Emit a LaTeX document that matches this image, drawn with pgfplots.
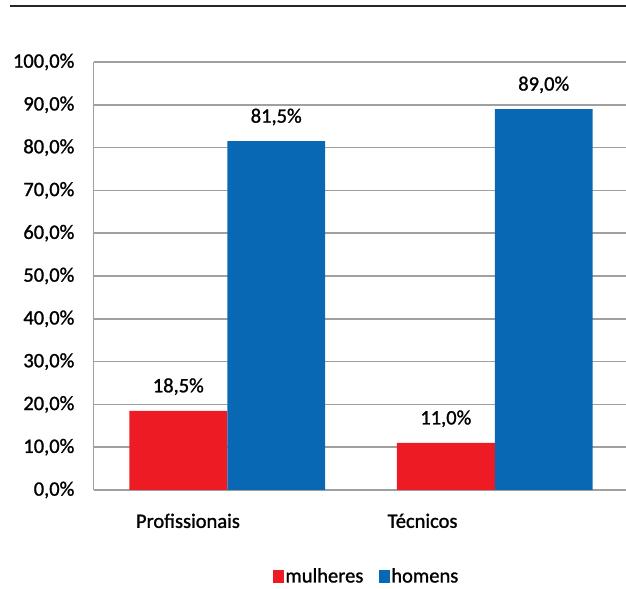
\documentclass[border=0pt]{standalone}
\usepackage{fontspec}
\setmainfont{Carlito}[FakeBold=1.2]
\usepackage{pgfplots}
\pgfplotsset{compat=1.18}

\definecolor{barred}{RGB}{237,28,36}
\definecolor{barblue}{RGB}{8,104,180}
\definecolor{gridgray}{RGB}{160,160,160}

\begin{document}
\fontsize{20.5bp}{24bp}\selectfont
\begin{tikzpicture}[x=1bp,y=1bp]
\useasboundingbox (0,0) rectangle (626,589);
% rule above the chart
\draw[line width=1.8bp, black!85] (10,583) -- (626,583);
\begin{axis}[
  at={(93.5bp,99bp)}, anchor=south west,
  width=535bp, height=428bp, scale only axis,
  xmin=-0.5, xmax=1.5, ymin=0, ymax=100,
  ybar=0pt, bar width=0.366,
  axis x line*=bottom, axis y line*=left,
  axis line style={-, gridgray, line width=1.5bp},
  ymajorgrids, grid style={gridgray, line width=1.5bp},
  major tick length=0pt,
  xtick={-0.147,0.73}, xticklabels={Profissionais, Técnicos},
  xticklabel style={inner sep=0pt, yshift=-23.5bp},
  ytick={0,10,...,100},
  yticklabel={\pgfmathprintnumber[fixed,fixed zerofill,precision=1,use comma,assume math mode=true]{\tick}\%},
  yticklabel style={inner sep=0pt, xshift=-19bp},
  nodes near coords={\pgfmathprintnumber[fixed,fixed zerofill,precision=1,use comma,assume math mode=true]{\pgfplotspointmeta}\%},
  every node near coord/.append style={anchor=base, inner sep=0pt, yshift=18.5bp, black},
  legend columns=2,
  legend style={at={(0.51,-0.203)}, anchor=center, draw=none, fill=none,
    /tikz/every even column/.append style={column sep=14bp},
    nodes={inner sep=1.5bp}},
]
\addplot[fill=barred, draw=none,
  legend image code/.code={\fill[barred] (0bp,-6.5bp) rectangle (11bp,6.5bp);}]
  coordinates {(0,18.5) (1,11.0)};
\addplot[fill=barblue, draw=none,
  legend image code/.code={\fill[barblue] (0bp,-6.5bp) rectangle (11bp,6.5bp);}]
  coordinates {(0,81.5) (1,89.0)};
\legend{mulheres, homens}
\end{axis}
\end{tikzpicture}
\end{document}
